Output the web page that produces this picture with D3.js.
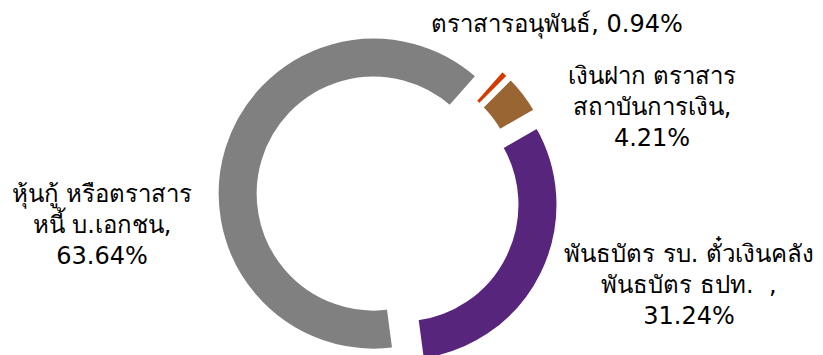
<!DOCTYPE html>
<html>
<head>
<meta charset="utf-8">
<script src="https://cdn.jsdelivr.net/npm/d3@7"></script>
<style>
  html, body { margin: 0; padding: 0; background: #fff; }
  svg { display: block; }
  text { font-family: Tahoma, "DejaVu Sans", "Noto Sans", sans-serif; fill: #000; white-space: pre; }
</style>
</head>
<body>
<svg id="chart"></svg>
<script>
// portfolio split (percent)
const categories = ['ตราสารอนุพันธ์', 'เงินฝาก ตราสาร สถาบันการเงิน', 'พันธบัตร รบ. ตั๋วเงินคลัง พันธบัตร ธปท.  ', 'หุ้นกู้ หรือตราสาร หนี้ บ.เอกชน'];
const values = [0.94, 4.21, 31.24, 63.64];
const labelLines = [
  ['ตราสารอนุพันธ์, 0.94%'],
  ['เงินฝาก ตราสาร', 'สถาบันการเงิน,', '4.21%'],
  ['พันธบัตร รบ. ตั๋วเงินคลัง', 'พันธบัตร ธปท.  ,', '31.24%'],
  ['หุ้นกู้ หรือตราสาร', 'หนี้ บ.เอกชน,', '63.64%']
];
const colors = ['#D43A00', '#996633', '#58257C', '#808080'];

// layout
const width = 823, height = 355;
const cx = 388, cy = 198;
const outerR = 157, innerR = 115;
const explode = 15;
const startDeg = 41.5;
// label anchors: x centre, baseline of first line
const labelPos = [[557, 32], [652, 84], [689, 262], [102, 202]];
const lineH = 31;

const svg = d3.select('#chart').attr('width', width).attr('height', height);

const pie = d3.pie().sort(null).value(d => d)
  .startAngle(startDeg * Math.PI / 180)
  .endAngle(startDeg * Math.PI / 180 + 2 * Math.PI);
const arc = d3.arc().innerRadius(innerR).outerRadius(outerR);

const slices = pie(values);
const g = svg.append('g').attr('transform', `translate(${cx},${cy})`);

g.selectAll('path')
  .data(slices)
  .join('path')
  .attr('d', arc)
  .attr('fill', (d, i) => colors[i])
  .attr('stroke', '#fff')
  .attr('stroke-width', 4)
  .attr('transform', d => {
    const a = (d.startAngle + d.endAngle) / 2;
    return `translate(${Math.sin(a) * explode},${-Math.cos(a) * explode})`;
  });

labelLines.forEach((lines, i) => {
  const [lx, ly] = labelPos[i];
  const t = svg.append('text')
    .attr('text-anchor', 'middle')
    .attr('font-size', 24)
    .attr('xml:space', 'preserve');
  lines.forEach((s, j) => {
    t.append('tspan')
      .attr('x', lx)
      .attr('y', ly + j * lineH)
      .text(s);
  });
});
</script>
</body>
</html>
